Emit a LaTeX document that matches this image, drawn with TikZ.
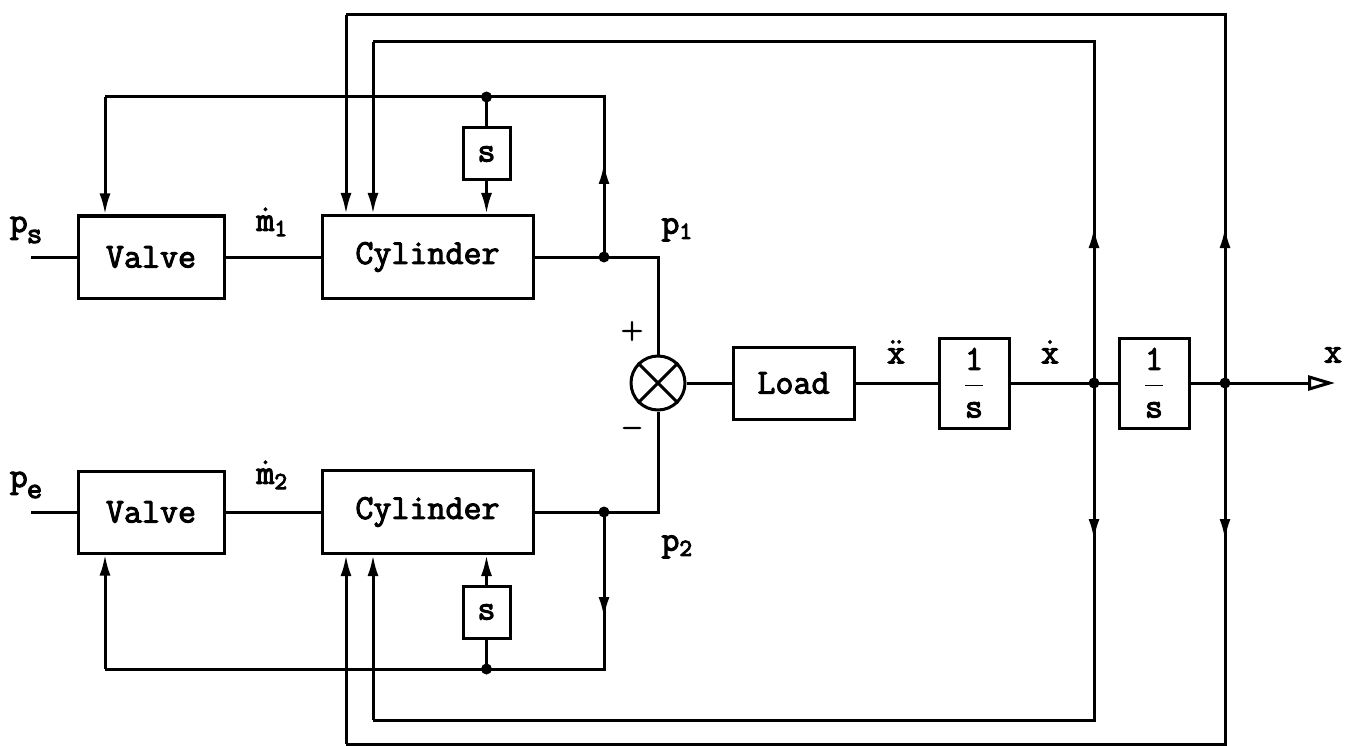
\RequirePackage{fix-cm}
\documentclass[tikz,border=0pt]{standalone}
\usetikzlibrary{arrows.meta}
\newcommand{\heavytext}{\special{pdf:literal direct 2 Tr 1.0 w}}
\newcommand{\lowsub}[1]{\kern-1pt\raisebox{-11pt}{\fontsize{30}{32}\selectfont\ttfamily #1}}
\begin{document}
\begin{tikzpicture}[x=1pt,y=-1pt,line width=3pt,
  txt/.style={font=\fontsize{35}{40}\selectfont\ttfamily,execute at begin node=\heavytext},
  blk/.style={draw,rectangle,inner sep=0pt,txt},
  lbl/.style={inner sep=0pt,txt},
  jdot/.style={circle,fill,inner sep=0pt,minimum size=11pt},
  arr/.style={-{Latex[length=21pt,width=11pt]}},
  openarr/.style={-{Triangle[open,length=27pt,width=15pt]}}]
\useasboundingbox (0,0) rectangle (1346,746);

% blocks
\node[blk,minimum width=146pt,minimum height=82pt] (valve1) at (151,257) {Valve};
\node[blk,minimum width=211pt,minimum height=83pt] (cyl1) at (427.5,257) {Cylinder};
\node[blk,minimum width=47pt,minimum height=52pt] (s1) at (486.5,154) {s};
\node[blk,minimum width=146pt,minimum height=82pt] (valve2) at (151,512) {Valve};
\node[blk,minimum width=211pt,minimum height=83pt] (cyl2) at (427.5,512) {Cylinder};
\node[blk,minimum width=47pt,minimum height=52pt] (s2) at (486.5,612) {s};
\node[draw,circle,inner sep=0pt,minimum size=54pt] (sum) at (658,383) {};
\node[blk,minimum width=121pt,minimum height=72pt] (load) at (793.5,383) {Load};
\node[blk,minimum width=70pt,minimum height=90pt] (int1) at (974,383) {$\displaystyle\frac{\mathtt{1}}{\mathtt{s}}$};
\node[blk,minimum width=70pt,minimum height=90pt] (int2) at (1154,383) {$\displaystyle\frac{\mathtt{1}}{\mathtt{s}}$};

% coordinates
\coordinate (in1) at (31,257);
\coordinate (in2) at (31,512);
\coordinate (c1) at (658,257);
\coordinate (c2) at (658,512);
\coordinate (a1) at (604,163);
\coordinate (a2) at (604,618);
\coordinate (tl1) at (105,97);
\coordinate (bl2) at (105,669);
\coordinate (u1) at (1094,227);
\coordinate (u2) at (1225,227);
\coordinate (v1) at (1094,540);
\coordinate (v2) at (1225,540);
\coordinate (f2) at (373,42);
\coordinate (g2) at (346,15);
\coordinate (h2) at (373,720);
\coordinate (k2) at (346,744);
\coordinate (out) at (1335,383);

% junction dots
\node[jdot] (j1) at (604,257) {};
\node[jdot] (j2) at (604,512) {};
\node[jdot] (d1) at (486.5,97) {};
\node[jdot] (d2) at (486.5,669) {};
\node[jdot] (xd) at (1094,383) {};
\node[jdot] (xo) at (1225,383) {};

% cross in summing junction
\draw (sum.north east) -- (sum.south west) (sum.north west) -- (sum.south east);

% forward paths
\draw (in1) -- (valve1.west);
\draw (valve1.east) -- (cyl1.west);
\draw (cyl1.east) -- (j1.center) -- (c1) -- (sum.north);
\draw (in2) -- (valve2.west);
\draw (valve2.east) -- (cyl2.west);
\draw (cyl2.east) -- (j2.center) -- (c2) -- (sum.south);
\draw (sum.east) -- (load.west);
\draw (load.east) -- (int1.west);
\draw (int1.east) -- (xd.center) -- (int2.west);
\draw (int2.east) -- (xo.center);
\draw[openarr] (xo.center) -- (out);

% upper pressure loop
\draw (j1.center) |- (tl1);
\draw[arr] (j1.center) -- (a1);
\draw[arr] (tl1) -- (valve1.north -| tl1);
\draw (d1.center) -- (s1.north);
\draw[arr] (s1.south) -- (cyl1.north -| s1);

% lower pressure loop
\draw (j2.center) |- (bl2);
\draw[arr] (j2.center) -- (a2);
\draw[arr] (bl2) -- (valve2.south -| bl2);
\draw (d2.center) -- (s2.south);
\draw[arr] (s2.north) -- (cyl2.south -| s2);

% velocity / position feedback
\draw (xd.center) |- (f2);
\draw[arr] (xd.center) -- (u1);
\draw[arr] (f2) -- (cyl1.north -| f2);
\draw (xo.center) |- (g2);
\draw[arr] (xo.center) -- (u2);
\draw[arr] (g2) -- (cyl1.north -| g2);
\draw (xd.center) |- (h2);
\draw[arr] (xd.center) -- (v1);
\draw[arr] (h2) -- (cyl2.south -| h2);
\draw (xo.center) |- (k2);
\draw[arr] (xo.center) -- (v2);
\draw[arr] (k2) -- (cyl2.south -| k2);

% labels
\node[lbl] (lps) at (26,230) {p\lowsub{s}};
\node[lbl] (lpe) at (26,485) {p\lowsub{e}};
\node[lbl] (lm1) at (272,222) {$\dot{\mathtt{m}}_{\mathtt{1}}$};
\node[lbl] (lm2) at (272,475) {$\dot{\mathtt{m}}_{\mathtt{2}}$};
\node[lbl] (lp1) at (677,230) {$\mathtt{p}_{\mathtt{1}}$};
\node[lbl] (lp2) at (677,547) {$\mathtt{p}_{\mathtt{2}}$};
\node[lbl,font=\fontsize{30}{34}\selectfont] (lplus) at (632,331) {$+$};
\node[lbl,font=\fontsize{28}{32}\selectfont] (lminus) at (632,428) {$-$};
\node[lbl] (lxdd) at (896,352) {$\ddot{\mathtt{x}}$};
\node[lbl] (lxd) at (1050,352) {$\dot{\mathtt{x}}$};
\node[lbl] (lx) at (1333,355) {$\mathtt{x}$};
\end{tikzpicture}
\end{document}
